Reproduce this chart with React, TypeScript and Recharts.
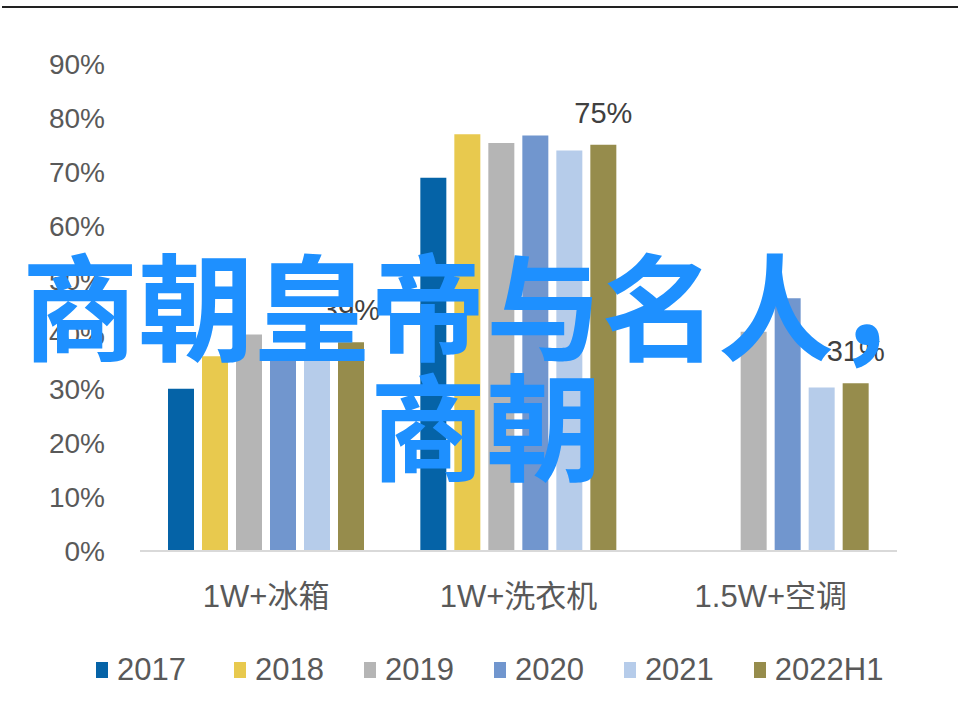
import React from 'react';
import { BarChart, Bar, XAxis, YAxis, LabelList } from 'recharts';

// categories and series (share of sales, %)
const categories = ['1W+冰箱', '1W+洗衣机', '1.5W+空调'];
const years = ['2017', '2018', '2019', '2020', '2021', '2022H1'];
const colors = ['#0563A7', '#E8C94E', '#B5B5B5', '#7196CE', '#B6CCEA', '#968C4C'];

const v2017 = [30, 69, null];
const v2018 = [36, 77, null];
const v2019 = [40, 75.4, 40.5];
const v2020 = [36, 76.8, 46.7];
const v2021 = [36.5, 74, 30.2];
const v2022H1 = [38.6, 75.1, 31];

const yTicks = [0, 10, 20, 30, 40, 50, 60, 70, 80, 90];

const seriesValues = [v2017, v2018, v2019, v2020, v2021, v2022H1];

const data = categories.map((name, i) => {
  const row: Record<string, string | number | null> = { name };
  years.forEach((y, j) => {
    row[y] = seriesValues[j][i];
  });
  return row;
});

const FONT = '"Liberation Sans", Arial, "Noto Sans CJK SC", sans-serif';

export default function App() {
  return (
    <div style={{ position: 'absolute', left: 0, top: 0, width: 976, height: 707, background: '#fff', fontFamily: FONT }}>
      {/* thin rule at the top of the image */}
      <div style={{ position: 'absolute', left: 2, top: 6, width: 956, height: 2, background: '#222' }} />

      <BarChart
        width={976}
        height={707}
        data={data}
        margin={{ top: 64, right: 79, bottom: 0, left: 0 }}
        barCategoryGap={28}
        barGap={8}
      >
        <YAxis
          type="number"
          domain={[0, 90]}
          ticks={yTicks}
          width={140}
          axisLine={false}
          tickLine={false}
          tickSize={0}
          tickMargin={35}
          tickFormatter={(v: number) => `${v}%`}
          tick={{ fill: '#595959', fontSize: 28, fontFamily: FONT }}
          interval={0}
        />
        <XAxis
          dataKey="name"
          height={156}
          axisLine={{ stroke: '#D9D9D9', strokeWidth: 2 }}
          tickLine={false}
          tickSize={0}
          tickMargin={34}
          tick={{ fill: '#595959', fontSize: 31, fontFamily: FONT }}
        />
        {years.map((y, j) => (
          <Bar key={y} dataKey={y} fill={colors[j]} isAnimationActive={false}>
            {y === '2022H1' && (
              <LabelList
                dataKey={y}
                position="top"
                offset={22}
                formatter={(v: number) => `${Math.round(v)}%`}
                style={{ fill: '#404040', fontSize: 29, fontFamily: FONT }}
              />
            )}
          </Bar>
        ))}
      </BarChart>

      {/* legend */}
      <div style={{ position: 'absolute', left: 96, top: 652, display: 'flex', alignItems: 'center', fontSize: 31, color: '#595959' }}>
        {years.map((y, j) => (
          <div key={y} style={{ display: 'flex', alignItems: 'center', marginRight: j === 0 ? 48 : 40 }}>
            <span style={{ display: 'inline-block', width: 12, height: 16, background: colors[j], marginRight: 9 }} />
            <span>{y}</span>
          </div>
        ))}
      </div>

      {/* overlay caption */}
      <div
        style={{
          position: 'absolute',
          left: -4,
          top: 241,
          width: 980,
          textAlign: 'center',
          fontFamily: '"Noto Sans CJK SC", sans-serif',
          fontWeight: 700,
          fontSize: 116,
          lineHeight: '120px',
          color: '#1E90FF',
          whiteSpace: 'nowrap',
        }}
      >
        商朝皇帝与名人，
        <br />
        商朝
      </div>
    </div>
  );
}
